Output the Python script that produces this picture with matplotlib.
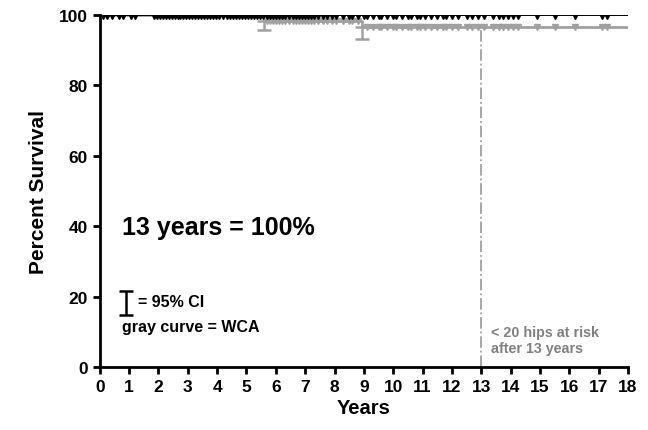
import matplotlib
matplotlib.use("Agg")
import matplotlib.pyplot as plt

plt.rcParams["font.family"] = ["Liberation Sans", "DejaVu Sans"]
plt.rcParams["font.weight"] = "bold"

# all hips: step curve stays at 100%
black_steps_x = [0, 18]
black_steps_y = [100, 100]
black_censor = [0.1, 0.25, 0.4, 0.65, 0.8, 1.05, 1.2,
                1.85, 1.95, 2.05, 2.15, 2.25, 2.35, 2.45, 2.55, 2.65, 2.75, 2.85, 2.95,
                3.05, 3.15, 3.25, 3.35, 3.45, 3.55, 3.65, 3.75, 3.85, 3.95, 4.05,
                4.2, 4.35, 4.45, 4.55, 4.65, 4.75, 4.85, 4.95, 5.05, 5.15, 5.25, 5.35,
                5.45, 5.55, 5.7, 5.8, 5.9, 6.0, 6.1, 6.2, 6.3, 6.45, 6.6, 6.7, 6.8,
                6.9, 7.0, 7.1, 7.2, 7.3, 7.45, 7.6, 7.75, 7.9, 8.05, 8.3, 8.5, 8.6,
                8.8, 9.0, 9.1, 9.3, 9.5, 9.6, 9.8, 10.0, 10.1, 10.3, 10.5, 10.6, 10.8,
                10.9, 11.1, 11.3, 11.5, 11.7, 11.8, 12.0, 12.2, 12.5, 12.7, 12.9,
                13.1, 13.4, 13.6, 13.75, 13.9, 14.1, 14.25, 14.9, 15.5, 16.2, 17.1,
                17.3]

# WCA: gray curve
gray_steps_x = [0, 5.6, 5.6, 8.95, 8.95, 18]
gray_steps_y = [100, 100, 98.4, 98.4, 96.6, 96.6]
gray_censor_0 = [0.1, 0.25, 0.4, 0.65, 0.8, 1.05, 1.2, 1.85, 2.05, 2.25, 2.45, 2.65,
                 2.85, 3.05, 3.25, 3.45, 3.65, 3.85, 4.05, 4.35, 4.55, 4.75, 4.95,
                 5.15, 5.35, 5.5]
gray_censor_1 = [5.7, 5.8, 5.9, 6.0, 6.1, 6.2, 6.3, 6.45, 6.6, 6.7, 6.8, 6.9, 7.0, 7.1,
                 7.2, 7.3, 7.45, 7.6, 7.75, 7.9, 8.05, 8.3, 8.5, 8.6, 8.8]
gray_censor_2 = [9.1, 9.3, 9.5, 9.6, 9.8, 10.0, 10.1, 10.3, 10.5, 10.6, 10.8, 10.9,
                 11.1, 11.3, 11.5, 11.7, 11.8, 12.0, 12.2, 12.5, 12.7, 12.9, 13.1,
                 13.4, 13.6, 13.75, 13.9, 14.1, 14.25, 14.9, 15.5, 16.2, 17.1, 17.3]
ci_x = [5.6, 8.95]
ci_y = [98.4, 96.6]
ci_low = [95.6, 93.3]

fig = plt.figure(figsize=(6.48, 4.31), dpi=100)
ax = fig.add_axes([0.154, 0.146, 0.815, 0.817])

gray = "#a0a0a0"
ax.plot(gray_steps_x, gray_steps_y, color=gray, lw=2, zorder=2)
ax.plot(gray_censor_0, [100] * len(gray_censor_0), ls="none", marker="v",
        ms=5, color="#c8c8c8", zorder=1.5)
ax.plot(gray_censor_1, [98.4] * len(gray_censor_1), ls="none", marker="v",
        ms=5, color=gray, zorder=2)
ax.plot(gray_censor_2, [96.6] * len(gray_censor_2), ls="none", marker="v",
        ms=5, color=gray, zorder=2)
ax.errorbar(ci_x, ci_y, yerr=[[y - l for y, l in zip(ci_y, ci_low)], [0, 0]],
            fmt="none", ecolor=gray, elinewidth=1.8, capsize=5, capthick=1.8, zorder=2)

ax.plot(black_steps_x, black_steps_y, color="black", lw=1.4, zorder=3)
ax.plot(black_censor, [100] * len(black_censor), ls="none", marker="v",
        ms=6, color="black", zorder=3)

ax.plot([13, 13], [0, 96.6], color=gray, lw=1.3, ls="-.", zorder=1)

ax.text(0.75, 39.8, "13 years = 100%", fontsize=18, fontweight="bold", va="center")
ax.errorbar([0.9], [18.2], yerr=[[3.4], [3.4]], fmt="none", ecolor="black",
            elinewidth=1.8, capsize=5, capthick=1.8)
ax.text(1.3, 18.6, "= 95% CI", fontsize=11.5, fontweight="bold", va="center")
ax.text(0.75, 11.6, "gray curve = WCA", fontsize=11.5, fontweight="bold", va="center")
ax.text(13.35, 7.8, "< 20 hips at risk\nafter 13 years", fontsize=10.3,
        fontweight="bold", color="#808080", va="center", linespacing=1.2)

ax.set_xlim(0, 18)
ax.set_ylim(0, 100)
ax.set_xticks(range(0, 19))
ax.set_yticks(range(0, 101, 20))
ax.tick_params(direction="out", width=2, length=5, labelsize=12.5)
for lab in ax.get_xticklabels() + ax.get_yticklabels():
    lab.set_fontweight("bold")
ax.spines["top"].set_visible(False)
ax.spines["right"].set_visible(False)
ax.spines["left"].set_linewidth(2)
ax.spines["bottom"].set_linewidth(2)
ax.set_xlabel("Years", fontsize=14.5, fontweight="bold", labelpad=3)
ax.set_ylabel("Percent Survival", fontsize=15, fontweight="bold", labelpad=8)

fig.savefig("out.png", dpi=100)
